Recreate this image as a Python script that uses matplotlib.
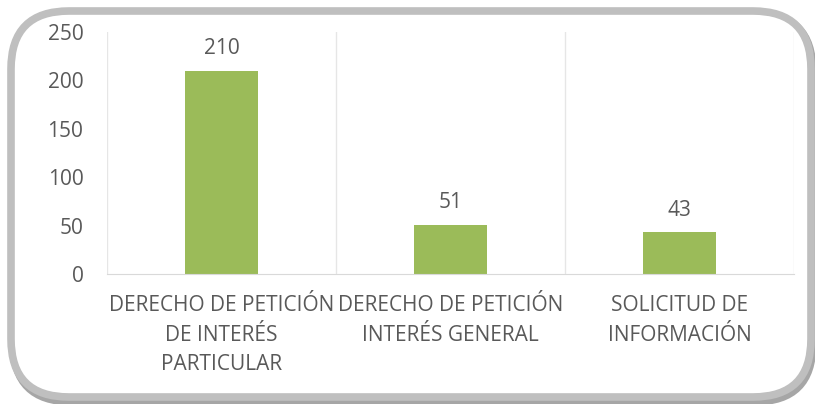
import matplotlib.pyplot as plt
from matplotlib.patches import FancyBboxPatch

# datos
categorias = ["DERECHO DE PETICIÓN\nDE INTERÉS\nPARTICULAR",
              "DERECHO DE PETICIÓN\nINTERÉS GENERAL",
              "SOLICITUD DE\nINFORMACIÓN"]
valores = [210, 51, 43]
ticks_y = [0, 50, 100, 150, 200, 250]

plt.rcParams['font.family'] = ['Open Sans', 'DejaVu Sans']
texto = '#595959'

fig = plt.figure(figsize=(8.15, 4.04), dpi=100)

# marco redondeado (coordenadas en pixeles)
fondo = fig.add_axes([0, 0, 1, 1])
fondo.set_xlim(0, 815)
fondo.set_ylim(404, 0)
fondo.axis('off')
sombra = FancyBboxPatch((13, 13), 800, 389, boxstyle="round,pad=0,rounding_size=58",
                        fc='none', ec='#A6A6A6', lw=5)
fondo.add_patch(sombra)
marco = FancyBboxPatch((11, 11), 800, 386, boxstyle="round,pad=0,rounding_size=58",
                       fc='white', ec='#BFBFBF', lw=5.5)
fondo.add_patch(marco)

ax = fig.add_axes([107/815, 1 - 274/404, (794 - 107)/815, (274 - 32)/404])
ax.patch.set_alpha(0)
x = range(len(valores))
barras = ax.bar(x, valores, width=0.32, color='#9BBB59')
for b, v in zip(barras, valores):
    ax.text(b.get_x() + b.get_width()/2, v + 12, str(v), ha='center', va='bottom',
            fontsize=15, color=texto)

ax.set_xlim(-0.5, len(valores) - 0.5)
ax.set_ylim(0, 250)
ax.set_yticks(ticks_y)
ax.set_xticks(list(x))
ax.set_xticklabels(categorias, linespacing=1.55)
ax.tick_params(axis='both', length=0, labelsize=15, colors=texto)
ax.tick_params(axis='y', pad=17)
ax.tick_params(axis='x', pad=15)

for g in [-0.5, 0.5, 1.5, 2.5]:
    ax.axvline(g, color='#E6E6E6', lw=1, zorder=0)
for s in ['top', 'right', 'left']:
    ax.spines[s].set_visible(False)
ax.spines['bottom'].set_color('#D9D9D9')

fig.savefig('out.png', dpi=100)
